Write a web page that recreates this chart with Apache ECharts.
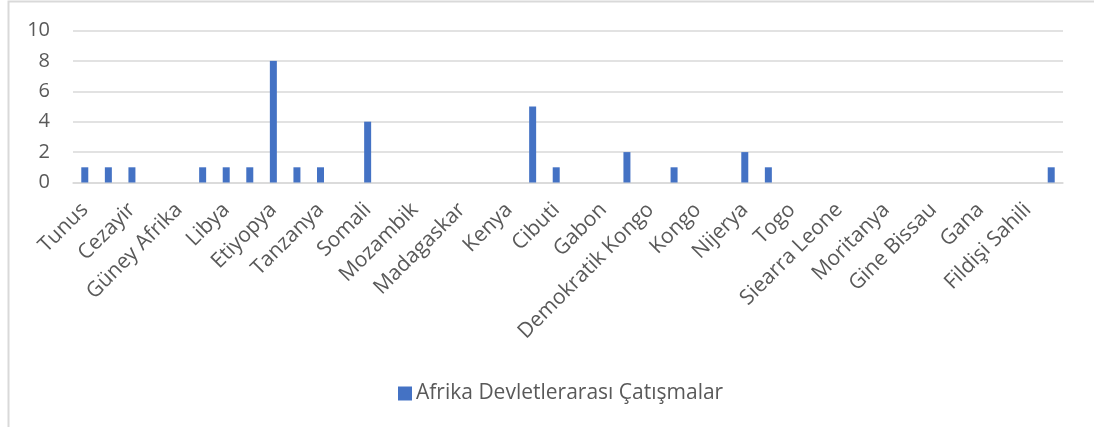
<!DOCTYPE html>
<html>
<head>
<meta charset="utf-8">
<script src="https://cdn.jsdelivr.net/npm/echarts@6/dist/echarts.min.js"></script>
<style>
html, body { margin: 0; padding: 0; background: #fff; }
#chart { width: 1094px; height: 427px; }
</style>
</head>
<body>
<div id="chart"></div>
<script>
// 42 categories; every second name is hidden on the axis (unreadable -> left blank)
var categories = [
  "Tunus", "", "Cezayir", "", "Güney Afrika", "", "Libya", "", "Etiyopya", "",
  "Tanzanya", "", "Somali", "", "Mozambik", "", "Madagaskar", "", "Kenya", "",
  "Cibuti", "", "Gabon", "", "Demokratik Kongo", "", "Kongo", "", "Nijerya", "",
  "Togo", "", "Siearra Leone", "", "Moritanya", "", "Gine Bissau", "", "Gana", "",
  "Fildişi Sahili", ""
];
var conflicts = [
  1, 1, 1, 0, 0, 1, 1, 1, 8, 1,
  1, 0, 4, 0, 0, 0, 0, 0, 0, 5,
  1, 0, 0, 2, 0, 1, 0, 0, 2, 1,
  0, 0, 0, 0, 0, 0, 0, 0, 0, 0,
  0, 1
];
var seriesName = "Afrika Devletlerarası Çatışmalar";
var yTicks = [0, 2, 4, 6, 8, 10];

var FONT = "Open Sans";
var TXT = "#595959";
var GRID = "#d9d9d9";

var chart = echarts.init(document.getElementById('chart'), null, { renderer: 'canvas' });
chart.setOption({
  animation: false,
  backgroundColor: '#ffffff',
  graphic: [{
    type: 'rect',
    shape: { x: 8.5, y: 1.5, width: 1200, height: 1000 },
    style: { fill: 'none', stroke: GRID, lineWidth: 2 },
    silent: true
  }],
  grid: { left: 73, right: 31, top: 30.5, bottom: 244.5, containLabel: false },
  legend: {
    data: [seriesName],
    left: 393,
    top: 378,
    icon: 'rect',
    itemWidth: 14,
    itemHeight: 14,
    itemGap: 6,
    textStyle: { color: TXT, fontFamily: FONT, fontSize: 21, padding: [0, 0, 0, -1] }
  },
  xAxis: {
    type: 'category',
    data: categories,
    boundaryGap: true,
    axisLine: { show: true, lineStyle: { color: GRID, width: 1.5 } },
    axisTick: { show: false },
    axisLabel: {
      interval: 1,
      rotate: 45,
      margin: 24,
      color: TXT,
      fontFamily: FONT,
      fontSize: 21
    },
    splitLine: { show: false }
  },
  yAxis: {
    type: 'value',
    min: yTicks[0],
    max: yTicks[yTicks.length - 1],
    interval: 2,
    axisLine: { show: false },
    axisTick: { show: false },
    axisLabel: { color: TXT, fontFamily: FONT, fontSize: 20, margin: 23 },
    splitLine: { lineStyle: { color: GRID, width: 1.5 } }
  },
  series: [{
    name: seriesName,
    type: 'bar',
    data: conflicts,
    barWidth: 7,
    itemStyle: { color: '#4472C4' }
  }]
});
</script>
</body>
</html>
